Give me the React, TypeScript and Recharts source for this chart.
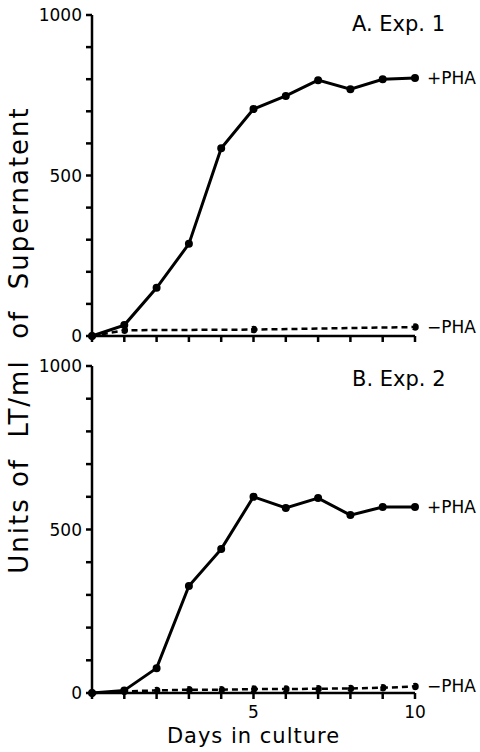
import React from 'react'
import { LineChart, Line, XAxis, YAxis, LabelList } from 'recharts'

// values (units of LT/ml)
const days = [0, 1, 2, 3, 4, 5, 6, 7, 8, 9, 10]
const expAPlus = [0, 34, 150, 287, 585, 707, 748, 797, 769, 800, 804]
const expAMinusDays = [0, 1, 5, 10]
const expAMinus = [0, 18, 20, 28]
const expBPlus = [0, 8, 76, 327, 440, 600, 566, 596, 544, 569, 569]
const expBMinus = [0, 5, 8, 10, 10, 12, 12, 13, 14, 16, 20]

const yTicks = [0, 100, 200, 300, 400, 500, 600, 700, 800, 900, 1000]
const yLabels = [0, 500, 1000]
const xLabels = [5, 10]

const font = 'DejaVu Sans'

const toRows = (xs: number[], ys: number[]) => xs.map((d, i) => ({ day: d, v: ys[i] }))

const endTag = (text: string, count: number) => (props: any) => {
  if (props.index !== count - 1) return null
  return (
    <text x={props.x + 12} y={props.y} dominantBaseline="central" fontSize={17} fontFamily={font} fill="#000">
      {text}
    </text>
  )
}

function Panel({ plus, minus, showX, height }: { plus: any[]; minus: any[]; showX: boolean; height: number }) {
  return (
    <LineChart width={480} height={height} margin={{ top: 15, right: 65, bottom: 0, left: 0 }}>
      <XAxis
        type="number"
        dataKey="day"
        domain={[0, 10]}
        ticks={days}
        interval={0}
        stroke="#000"
        strokeWidth={2.5}
        tickSize={6}
        tickMargin={7}
        height={showX ? 59 : 9}
        tick={{ fill: '#000', fontSize: 17, fontFamily: font }}
        tickFormatter={(v: number) => (showX && xLabels.includes(v) ? String(v) : '')}
        label={
          showX
            ? { value: 'Days  in  culture', position: 'insideBottom', offset: 9, fill: '#000', fontSize: 21, fontFamily: font, style: { letterSpacing: 1, whiteSpace: 'pre' } }
            : undefined
        }
      />
      <YAxis
        type="number"
        domain={[0, 1000]}
        ticks={yTicks}
        interval={0}
        width={92}
        stroke="#000"
        strokeWidth={2.5}
        tickSize={6}
        tickMargin={4}
        tick={{ fill: '#000', fontSize: 17, fontFamily: font }}
        tickFormatter={(v: number) => (yLabels.includes(v) ? String(v) : '')}
      />
      <Line
        data={minus}
        dataKey="v"
        stroke="#000"
        strokeWidth={2.5}
        strokeDasharray="6 4"
        dot={{ r: 2.5, fill: '#000', stroke: '#000' }}
        isAnimationActive={false}
      >
        <LabelList dataKey="v" content={endTag('\u2212PHA', minus.length)} />
      </Line>
      <Line
        data={plus}
        dataKey="v"
        stroke="#000"
        strokeWidth={3}
        dot={{ r: 2.5, fill: '#000', stroke: '#000' }}
        isAnimationActive={false}
      >
        <LabelList dataKey="v" content={endTag('+PHA', plus.length)} />
      </Line>
    </LineChart>
  )
}

export default function App() {
  const title = { position: 'absolute' as const, left: 352, fontSize: 21, fontFamily: font, color: '#000', whiteSpace: 'pre' as const }
  return (
    <div style={{ position: 'absolute', left: 0, top: 0, width: 480, height: 752, background: '#fff', overflow: 'hidden' }}>
      <div style={{ position: 'absolute', left: 0, top: 0 }}>
        <Panel plus={toRows(days, expAPlus)} minus={toRows(expAMinusDays, expAMinus)} showX={false} height={345} />
      </div>
      <div style={{ position: 'absolute', left: 0, top: 351 }}>
        <Panel plus={toRows(days, expBPlus)} minus={toRows(days, expBMinus)} showX={true} height={401} />
      </div>
      <div style={{ ...title, top: 12 }}>A. Exp. 1</div>
      <div style={{ ...title, top: 367 }}>B. Exp. 2</div>
      <div
        style={{
          position: 'absolute',
          left: 19,
          top: 340,
          transform: 'translate(-50%, -50%) rotate(-90deg)',
          fontSize: 26,
          fontFamily: font,
          letterSpacing: 2,
          whiteSpace: 'pre',
          color: '#000',
        }}
      >
        Units of  LT/ml  of  Supernatent
      </div>
    </div>
  )
}
